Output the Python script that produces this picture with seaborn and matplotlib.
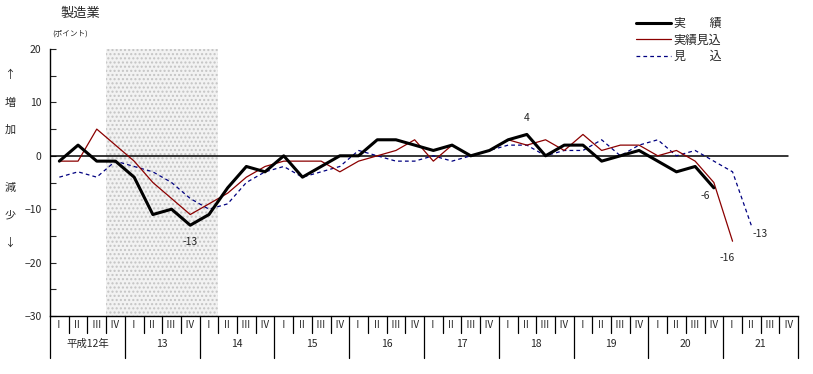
import matplotlib.pyplot as plt
import seaborn as sns
import pandas as pd

# quarter / year labels
quarters = ["Ⅰ", "Ⅱ", "Ⅲ", "Ⅳ"] * 10
years = ["平成12年", "13", "14", "15", "16", "17", "18", "19", "20", "21"]

# BSI (points), one value per quarter from 平成12年 I
actual = [-1, 2, -1, -1, -4, -11, -10, -13, -11, -6, -2, -3,
          0, -4, -2, 0, 0, 3, 3, 2, 1, 2, 0, 1,
          3, 4, 0, 2, 2, -1, 0, 1, -1, -3, -2, -6]
actual_est = [-1, -1, 5, 2, -1, -5, -8, -11, -9, -7, -4, -2,
              -1, -1, -1, -3, -1, 0, 1, 3, -1, 2, 0, 1,
              3, 2, 3, 1, 4, 1, 2, 2, 0, 1, -1, -5, -16]
forecast = [-4, -3, -4, -1, -2, -3, -5, -8, -10, -9, -5, -3,
            -2, -4, -3, -2, 1, 0, -1, -1, 0, -1, 0, 1,
            2, 2, 0, 1, 1, 3, 0, 2, 3, 0, 1, -1, -3, -13]

series_names = ["実\u3000\u3000績", "実績見込", "見\u3000\u3000込"]

# recession shading (quarter index range)
shade_from, shade_to = 3, 8

sns.set_style("white")
plt.rcParams["font.family"] = ["Noto Sans CJK JP", "DejaVu Sans"]

fig = plt.figure(figsize=(8.13, 3.74), dpi=100)
ax = fig.add_axes([50 / 813, 58 / 374, 748 / 813, 267 / 374])

ax.axvspan(shade_from - 0.5, shade_to + 0.5, facecolor="#f2f2f2",
           edgecolor="#c4c4c4", hatch="....", linewidth=0, zorder=0)
ax.axhline(0, xmin=0, xmax=0.987, color="black", linewidth=1.1, zorder=1)

df_a = pd.DataFrame({"q": range(len(actual)), "v": actual})
df_e = pd.DataFrame({"q": range(len(actual_est)), "v": actual_est})
df_f = pd.DataFrame({"q": range(len(forecast)), "v": forecast})

sns.lineplot(data=df_a, x="q", y="v", ax=ax, color="black",
             linewidth=2.2, label=series_names[0], errorbar=None, zorder=4)
sns.lineplot(data=df_e, x="q", y="v", ax=ax, color="#8b0000",
             linewidth=0.9, label=series_names[1], errorbar=None, zorder=3)
sns.lineplot(data=df_f, x="q", y="v", ax=ax, color="#000080",
             linewidth=0.9, linestyle=(0, (3, 2.5)),
             label=series_names[2], errorbar=None, zorder=2)

ax.set_xlim(-0.5, 39.5)
ax.set_ylim(-30, 20)
ax.set_yticks(range(-30, 21, 10))
ax.set_yticks(range(-25, 20, 10), minor=True)
ax.set_xticks([])
ax.set_xlabel("")
ax.set_ylabel("")
ax.tick_params(axis="y", which="both", direction="in", length=4,
               width=0.8, left=True, labelsize=7.5, pad=6)
for s in ["top", "right"]:
    ax.spines[s].set_visible(False)
for s in ["left", "bottom"]:
    ax.spines[s].set_linewidth(1)
    ax.spines[s].set_color("black")

# quarter / year table under the axis
trans = ax.get_xaxis_transform()
for i in range(len(quarters) + 1):
    x = i - 0.5
    low = -0.157 if i % 4 == 0 else -0.064
    ax.plot([x, x], [0, low], color="black", linewidth=0.9,
            transform=trans, clip_on=False)
for i, q in enumerate(quarters):
    ax.text(i - 0.3, -0.034, q, transform=trans, ha="left", va="center",
            fontsize=7)
for k, y in enumerate(years):
    ax.text(4 * k + 1.5, -0.103, y, transform=trans, ha="center",
            va="center", fontsize=7.5)

# value labels
ax.annotate("-13", (7, actual[7]), xytext=(0, -12), textcoords="offset points",
            ha="center", va="center", fontsize=7.5)
ax.annotate("4", (25, actual[25]), xytext=(0, 12), textcoords="offset points",
            ha="center", va="center", fontsize=7.5)
ax.annotate("-6", (35, actual[35]), xytext=(-6, -6), textcoords="offset points",
            ha="center", va="center", fontsize=7.5)
ax.annotate("-16", (36, actual_est[36]), xytext=(-4, -12),
            textcoords="offset points", ha="center", va="center", fontsize=7.5)
ax.annotate("-13", (37, forecast[37]), xytext=(6, -6),
            textcoords="offset points", ha="center", va="center", fontsize=7.5)

ax.legend(loc="upper left", bbox_to_anchor=(636 / 813, 1 - 17 / 374),
          bbox_transform=fig.transFigure, frameon=False, fontsize=8.6,
          handlelength=2.9, handletextpad=0.25, labelspacing=0.3,
          borderpad=0, borderaxespad=0)

fig.text(60 / 813, 1 - 13 / 374, "製造業", fontsize=9.5, va="center", ha="left")
fig.text(52 / 813, 1 - 34 / 374, "(ポイント)", fontsize=5.5, va="center",
         ha="left")
for ch, yp in zip(["↑", "増", "加", "減", "少", "↓"],
                  [75, 103, 130, 188, 215, 243]):
    fig.text(10 / 813, 1 - yp / 374, ch, fontsize=8, va="center", ha="center")

plt.savefig("out.png", dpi=100)
plt.close()
